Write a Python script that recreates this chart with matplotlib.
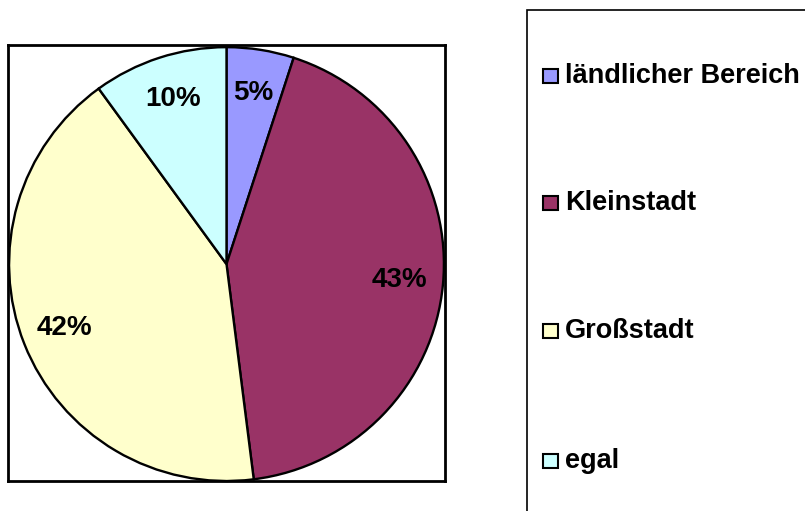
import matplotlib.pyplot as plt
from matplotlib.patches import Rectangle

# data
categories = ['ländlicher Bereich', 'Kleinstadt', 'Großstadt', 'egal']
shares = [5, 43, 42, 10]
colors = ['#9999FF', '#993366', '#FFFFCC', '#CCFFFF']

W, H = 805, 511
fig = plt.figure(figsize=(W / 100, H / 100), dpi=100)
plt.rcParams['font.family'] = ['Liberation Sans', 'DejaVu Sans']

# pie area with a frame
ax = fig.add_axes([8 / W, 30 / H, 437 / W, 436 / H])
wedges, texts, autotexts = ax.pie(
    shares, colors=colors, startangle=90, counterclock=False,
    autopct='%1.0f%%', pctdistance=0.8,
    wedgeprops=dict(edgecolor='black', linewidth=1.7),
    textprops=dict(fontsize=20, fontweight='bold', color='black'))
ax.set_xlim(-1.005, 1.005)
ax.set_ylim(-1.0, 1.01)
ax.set_aspect('auto')
ax.set_frame_on(True)
ax.set_xticks([])
ax.set_yticks([])
for s in ax.spines.values():
    s.set_visible(True)
    s.set_linewidth(2.0)
    s.set_color('black')

# legend box (runs off the right and bottom edge)
fig.patches.append(Rectangle((527 / W, -0.05), 0.4, (H - 10) / H + 0.05,
                             transform=fig.transFigure, fill=False,
                             edgecolor='black', linewidth=1.2))
ys = [76, 203, 331, 461]
for lab, col, y in zip(categories, colors, ys):
    fig.patches.append(Rectangle((543 / W, (H - y - 7) / H), 15 / W, 14 / H,
                                 transform=fig.transFigure, facecolor=col,
                                 edgecolor='black', linewidth=1.5))
    fig.text(565 / W, (H - y) / H, lab, fontsize=19.5, fontweight='bold',
             va='center', ha='left')

fig.savefig('out.png', dpi=100)
